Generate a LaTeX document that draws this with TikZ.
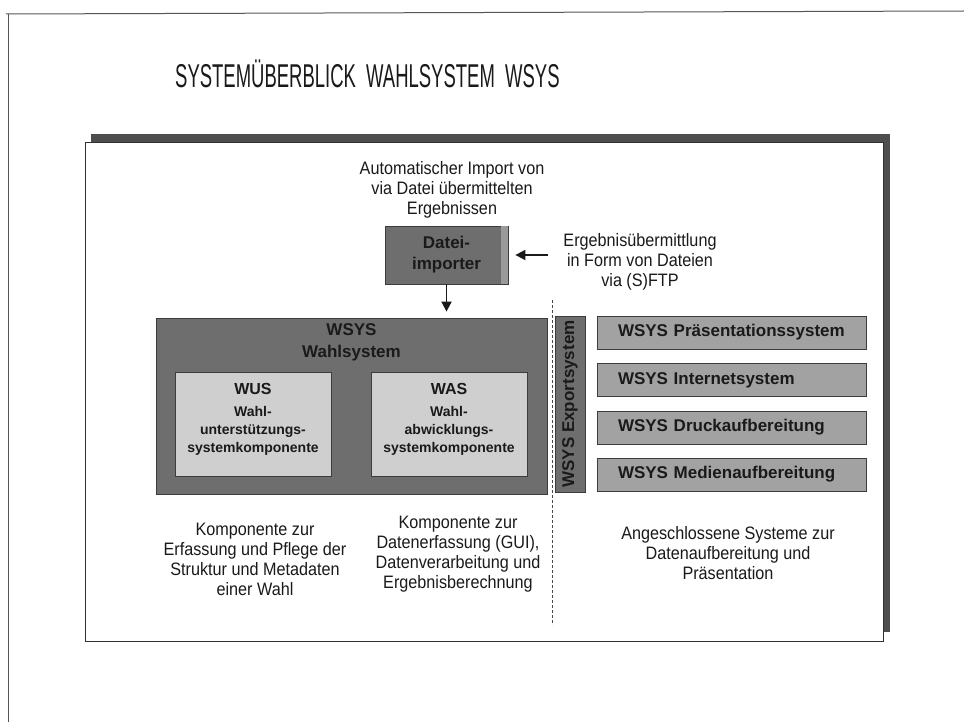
\documentclass[tikz,border=0pt]{standalone}
\usepackage{fontspec}
\setmainfont{Liberation Sans}
\newfontfamily\narrowfont[FakeStretch=0.9]{Liberation Sans}
\newfontfamily\titlefont[FakeStretch=0.56]{Liberation Sans}
\usetikzlibrary{arrows.meta}
\definecolor{inkc}{HTML}{1A1A1A}
\definecolor{darkbox}{HTML}{6E6E6E}
\definecolor{midbox}{HTML}{A2A2A2}
\definecolor{lightbox}{HTML}{CFCFCF}
\definecolor{shadowc}{HTML}{4E4E4E}
\definecolor{rulec}{HTML}{555555}
\tikzset{
  x=1pt, y=-1pt,
  boxline/.style={draw=inkc!85, line width=0.8pt},
  darkfill/.style={boxline, fill=darkbox},
  lightfill/.style={boxline, fill=lightbox},
  sysbox/.style={boxline, fill=midbox, minimum width=269pt, minimum height=33pt,
    inner xsep=21pt, text width=227pt, align=left, text=inkc,
    font=\bfseries\fontsize{17}{20}\selectfont},
  note/.style={align=center, text=inkc, inner sep=0pt,
    font=\narrowfont\fontsize{18}{20}\selectfont},
  flow/.style={line width=1.8pt, draw=inkc, -{Triangle[length=10pt,width=10pt]}},
  sep/.style={draw=inkc!80, line width=0.8pt, dash pattern=on 3pt off 2pt}
}
\begin{document}
\begin{tikzpicture}
\useasboundingbox (0,0) rectangle (964,722);
\fill[white] (0,0) rectangle (964,722);

% page edges
\draw[rulec, line width=1pt] (6,14) -- (964,11);
\draw[rulec, line width=1pt] (8,14) -- (8,722);

% title
\node[anchor=west, inner sep=0pt, text=inkc,
  font=\titlefont\fontsize{33}{36}\selectfont] (title) at (175,74)
  {SYSTEMÜBERBLICK\ \ WAHLSYSTEM\ \ WSYS};

% framed panel with drop shadow
\fill[shadowc] (91,134) rectangle (890,632);
\draw[fill=white, draw=inkc!90, line width=1pt] (85,143) rectangle (883,641);

% importer
\node[note] (autotext) at (452,190)
  {Automatischer Import von\\via Datei übermittelten\\Ergebnissen};
\node[darkfill, minimum width=123pt, minimum height=58pt] (imp) at (446.5,255) {};
\fill[darkbox!70!white] (501,226.5) rectangle (507.5,283.5);
\node[align=center, text=inkc, font=\bfseries\fontsize{17}{21}\selectfont] (implabel)
  at (imp.center) {Datei-\\importer};

\node[note] (ftptext) at (640,262)
  {Ergebnisübermittlung\\in Form von Dateien\\via (S)FTP};
\coordinate (ftpin) at (548,255);
\draw[flow, shorten >=7pt] (ftpin) -- (imp.east);

% election system
\node[darkfill, minimum width=391pt, minimum height=176pt] (wahl) at (351.5,406) {};
\node[align=center, text=inkc, font=\bfseries\fontsize{17}{22}\selectfont] (wahllabel)
  at (351.5,342) {WSYS\\Wahlsystem};
\draw[flow, shorten >=6pt] (imp.south) -- (imp.south |- wahl.north);

\node[lightfill, minimum width=156pt, minimum height=104pt] (wus) at (253,424) {};
\node[lightfill, minimum width=156pt, minimum height=104pt] (was) at (449,424) {};
\node[anchor=north, align=center, text=inkc, inner sep=0pt,
  font=\bfseries\fontsize{14}{18}\selectfont] (wuslabel) at (253,383)
  {{\fontsize{16}{18}\selectfont WUS}\\[4pt]Wahl-\\unterstützungs-\\systemkomponente};
\node[anchor=north, align=center, text=inkc, inner sep=0pt,
  font=\bfseries\fontsize{14}{18}\selectfont] (waslabel) at (449,383)
  {{\fontsize{16}{18}\selectfont WAS}\\[4pt]Wahl-\\abwicklungs-\\systemkomponente};

% separator
\coordinate (septop) at (552,300);
\coordinate (sepbot) at (552,625);
\draw[sep] (septop) -- (sepbot);

% export system and connected systems
\node[darkfill, minimum width=30pt, minimum height=176pt] (export) at (570,404) {};
\node[rotate=90, text=inkc, font=\bfseries\fontsize{17}{18}\selectfont] (exportlabel)
  at (export.center) {WSYS Exportsystem};

\node[sysbox] (praes) at (731.5,332.5) {WSYS Präsentationssystem};
\node[sysbox] (inet)  at (731.5,380)   {WSYS Internetsystem};
\node[sysbox] (druck) at (731.5,427.5) {WSYS Druckaufbereitung};
\node[sysbox] (medien) at (731.5,474.5) {WSYS Medienaufbereitung};

% captions
\node[note] (wuscap) at (255,559)
  {Komponente zur\\Erfassung und Pflege der\\Struktur und Metadaten\\einer Wahl};
\node[note] (wascap) at (458,554)
  {Komponente zur\\Datenerfassung (GUI),\\Datenverarbeitung und\\Ergebnisberechnung};
\node[note] (syscap) at (728,553)
  {Angeschlossene Systeme zur\\Datenaufbereitung und\\Präsentation};
\end{tikzpicture}
\end{document}
